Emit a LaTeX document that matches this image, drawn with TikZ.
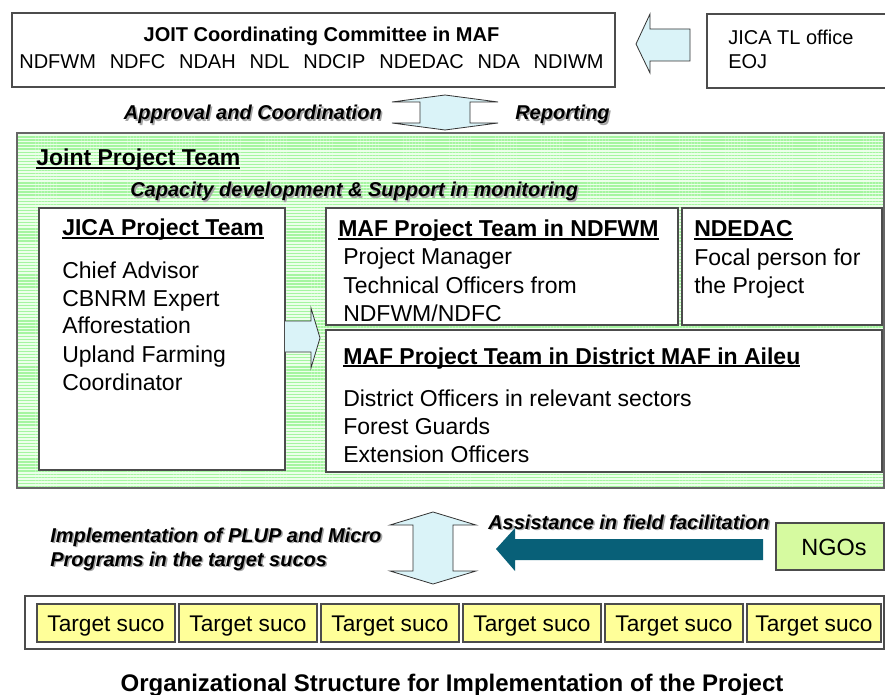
\documentclass[tikz,border=0pt]{standalone}
\usepackage{fontspec}
\setmainfont{Liberation Sans}
\usetikzlibrary{fit,shadows,patterns.meta}
\definecolor{arrowblue}{RGB}{218,243,248}
\definecolor{tealarrow}{RGB}{8,96,120}
\definecolor{stripegreen}{RGB}{165,245,160}
\definecolor{palegreen}{RGB}{236,255,234}
\definecolor{ngogreen}{RGB}{214,250,160}
\definecolor{sucoyellow}{RGB}{255,255,153}
\newcommand\fA{\fontsize{15}{18}\selectfont}
\newcommand\fB{\fontsize{17.25}{21}\selectfont}
\newcommand\fC{\fontsize{17}{20}\selectfont}
\newcommand\fD{\fontsize{18}{22}\selectfont}
\newcommand\ulbox[1]{\setbox0\hbox{#1}\rlap{\rule[-2pt]{\wd0}{1.1pt}}\box0}
\newcommand\hs{\hspace{0.69em}}
\newcommand\shlabel[5]{%
  \node[inner sep=0,anchor=#4,text=black!35,xshift=1.2pt,yshift=-1.2pt] (#1s) at (#2,#3) {\fA\bfseries\itshape #5};
  \node[inner sep=0,anchor=#4] (#1) at (#2,#3) {\fA\bfseries\itshape #5};}
\begin{document}
\begin{tikzpicture}[x=0.75pt,y=-0.75pt,
  box/.style={draw=black!70,line width=0.8pt,fill=white,inner sep=0,
    drop shadow={shadow xshift=1pt,shadow yshift=-1pt,fill=black!45,opacity=0.6}},
  sucobox/.style={box,fill=sucoyellow},
  ngobox/.style={box,fill=ngogreen},
  txt/.style={inner sep=0,anchor=base west},
  blockarrow/.style={draw=black!80,line width=0.6pt,fill=arrowblue,line join=miter}]
\clip (0,0) rectangle (885,695);
\fill[white] (0,0) rectangle (885,695);

% top row
\node[box,fit={(12,13) (615,87)}] (ccom) {};
\node[inner sep=0,anchor=base] (ccomt) at (321.5,42) {\fA\bfseries JOIT Coordinating Committee in MAF};
\node[inner sep=0,anchor=base] (ccoml) at (311.5,69) {\fA NDFWM\hs NDFC\hs NDAH\hs NDL\hs NDCIP\hs NDEDAC\hs NDA\hs NDIWM};
\node[box,fit={(707,14) (892,88)}] (jtl) {};
\node[txt] (jtl1) at (728,45) {\fA JICA TL office};
\node[txt] (jtl2) at (728,69) {\fA EOJ};
\draw[blockarrow] (636,44) -- (650,14) -- (650,29) -- (690,29) -- (690,61) -- (650,61) -- (650,73) -- cycle;

% approval arrow
\draw[blockarrow] (445,95) -- (498,102) -- (470,102) -- (470,123) -- (498,123) -- (445,130)
  -- (392,123) -- (420,123) -- (420,102) -- (392,102) -- cycle;
\shlabel{appr}{382}{120}{base east}{Approval and Coordination}
\shlabel{repo}{515}{120}{base west}{Reporting}

% joint project team
\node[fit={(17,133) (884,488)},inner sep=0,draw=black!60,line width=0.8pt,
  preaction={fill=palegreen},
  pattern={Lines[angle=0,distance=2.3pt,line width=1.0pt]},pattern color=stripegreen] (jpt) {};
\node[txt] (jptt) at (36,166) {\fB\bfseries\ulbox{Joint Project Team}};
\shlabel{capa}{130}{197}{base west}{Capacity development \& Support in monitoring}

% JICA project team
\node[box,fit={(39,208) (285,470)}] (jica) {};
\node[txt] (jicat) at (62,236) {\fB\bfseries\ulbox{JICA Project Team}};
\foreach \t [count=\i] in {Chief Advisor,CBNRM Expert,Afforestation,Upland Farming,Coordinator}
  \node[txt] (jica\i) at (62,250+28*\i) {\fB \t};

% MAF NDFWM
\node[box,fit={(326,208) (678,325)}] (mafn) {};
\node[txt] (mafnt) at (338,237) {\fB\bfseries\ulbox{MAF Project Team in NDFWM}};
\foreach \t [count=\i] in {Project Manager,Technical Officers from,NDFWM/NDFC}
  \node[txt] (mafn\i) at (343,237+28*\i) {\fB \t};

% NDEDAC
\node[box,fit={(682,208) (882,325)}] (nded) {};
\node[txt] (nedt) at (694,237) {\fB\bfseries\ulbox{NDEDAC}};
\node[txt] (ned1) at (694,266) {\fB Focal person for};
\node[txt] (ned2) at (694,294) {\fB the Project};

% District
\node[box,fit={(326,330) (882,472)}] (dist) {};
\node[txt] (distt) at (343,364) {\fB\bfseries\ulbox{MAF Project Team in District MAF in Aileu}};
\foreach \t [count=\i] in {District Officers in relevant sectors,Forest Guards,Extension Officers}
  \node[txt] (dist\i) at (343,378+28*\i) {\fB \t};

% arrow JICA -> district
\draw[blockarrow] (285,321) -- (311,321) -- (311,308) -- (320,338) -- (311,368) -- (311,352) -- (285,352);

% lower part
\draw[blockarrow] (433,512) -- (476,525) -- (453,525) -- (453,571) -- (476,571) -- (433,584)
  -- (390,571) -- (413,571) -- (413,525) -- (390,525) -- cycle;
\shlabel{impl1}{50}{542}{base west}{Implementation of PLUP and Micro}
\shlabel{impl2}{50}{566}{base west}{Programs in the target sucos}
\shlabel{assi}{488}{529}{base west}{Assistance in field facilitation}
\node[ngobox,fit={(776,523) (884,570)}] (ngo) {};
\node[inner sep=0,anchor=base] (ngot) at (834,555) {\fontsize{17.6}{21}\selectfont NGOs};
\fill[tealarrow] (496,549) -- (515,528) -- (515,539) -- (763,539) -- (763,560) -- (515,560) -- (515,571) -- cycle;

% target sucos
\node[box,fit={(25,596) (884,649)}] (sucos) {};
\foreach \a/\b [count=\i] in {37/175,179/317,321/459,463/601,605/743,747/881}{
  \node[sucobox,fit={(\a,604) (\b,642)}] (suco\i) {};
  \path (suco\i.center) ++(0,8) node[inner sep=0,anchor=base] (sucot\i) {\fC Target suco};
}

% caption
\node[inner sep=0,anchor=base] (cap) at (452,691) {\fD\bfseries Organizational Structure for Implementation of the Project};
\end{tikzpicture}
\end{document}
